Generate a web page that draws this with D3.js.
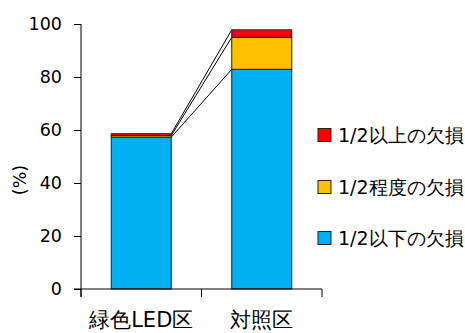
<!DOCTYPE html>
<html><head><meta charset="utf-8">
<script src="https://cdn.jsdelivr.net/npm/d3@7"></script>
<style>body{margin:0;background:#fff}svg{display:block}</style>
</head><body>
<svg id="c" width="465" height="333"></svg>
<script>
const categories = ["緑色LED区", "対照区"];
const seriesNames = ["1/2以下の欠損", "1/2程度の欠損", "1/2以上の欠損"];
const seriesColors = ["#00B0F0", "#FFC000", "#FF0000"];
const below = [57.3, 82.9];
const middle = [0.6, 12.1];
const above = [0.7, 2.8];
const yTicks = [0, 20, 40, 60, 80, 100];

const svg = d3.select("#c");
const font = "'DejaVu Sans', Verdana, sans-serif";
const x = d3.scaleBand().domain(categories).range([81, 322]).paddingInner(0).paddingOuter(0);
const y = d3.scaleLinear().domain([0, 100]).range([289, 24]);
const barW = 60;

const rows = categories.map((c, i) => ({cat: c, vals: [below[i], middle[i], above[i]]}));
const stacked = rows.map(r => {
  let acc = 0;
  return r.vals.map((v, k) => { const s = {y0: acc, y1: acc + v, k, cat: r.cat}; acc += v; return s; });
});

// connector lines
for (let k = 0; k < 3; k++) {
  const a = stacked[0][k], b = stacked[1][k];
  svg.append("line")
    .attr("x1", x(categories[0]) + x.bandwidth()/2 + barW/2).attr("y1", y(a.y1))
    .attr("x2", x(categories[1]) + x.bandwidth()/2 - barW/2).attr("y2", y(b.y1))
    .attr("stroke", "#000").attr("stroke-width", 1);
}

// bars
stacked.forEach(segs => {
  segs.forEach(s => {
    svg.append("rect")
      .attr("x", x(s.cat) + x.bandwidth()/2 - barW/2)
      .attr("y", y(s.y1))
      .attr("width", barW)
      .attr("height", y(s.y0) - y(s.y1))
      .attr("fill", seriesColors[s.k])
      .attr("stroke", "#222").attr("stroke-width", 1);
  });
});

// y axis
const ya = svg.append("g").attr("transform", "translate(81,0)")
  .call(d3.axisLeft(y).tickValues(yTicks).tickSize(7).tickPadding(12));
ya.select(".domain").attr("d", "M0,24V297").attr("stroke", "#000");
ya.selectAll(".tick line").attr("stroke", "#000");
ya.selectAll("text").attr("font-family", font).attr("font-size", 17.5).attr("fill", "#000");

// x axis
const xa = svg.append("g").attr("transform", "translate(0,289)");
xa.append("line").attr("x1", 74).attr("x2", 322).attr("y1", 0).attr("y2", 0).attr("stroke", "#000");
[81, ...categories.map(c => x(c) + x.bandwidth())].forEach(px => {
  xa.append("line").attr("x1", px).attr("x2", px).attr("y1", 0).attr("y2", 8).attr("stroke", "#000");
});
categories.forEach(c => {
  xa.append("text").attr("x", x(c) + x.bandwidth()/2).attr("y", 38)
    .attr("text-anchor", "middle").attr("font-family", font).attr("font-size", 21).attr("fill", "#000").text(c);
});

// y label
svg.append("text").attr("transform", "translate(26,180) rotate(-90)")
  .attr("text-anchor", "middle").attr("font-family", font).attr("font-size", 17.5).text("(%)");

// legend
const legY = [238, 187, 135];
seriesNames.forEach((n, k) => {
  const g = svg.append("g").attr("transform", `translate(318,${legY[k]})`);
  g.append("rect").attr("x", 0).attr("y", -6.5).attr("width", 13).attr("height", 13)
    .attr("fill", seriesColors[k]).attr("stroke", "#222").attr("stroke-width", 1);
  g.append("text").attr("x", 20).attr("y", 0).attr("dy", "0.36em")
    .attr("font-family", font).attr("font-size", 19).attr("fill", "#000").text(n);
});
</script>
</body></html>
